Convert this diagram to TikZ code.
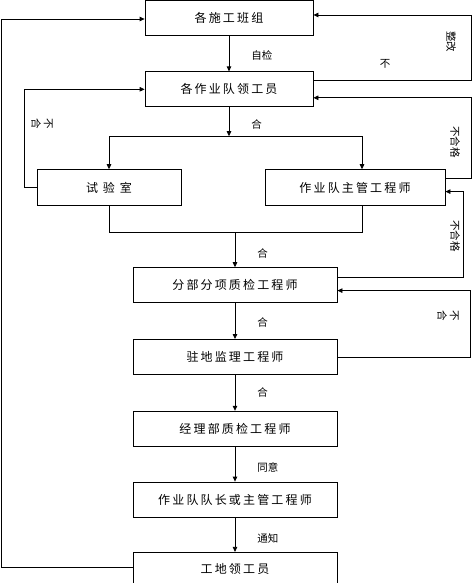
\documentclass[tikz,border=0pt]{standalone}
\usepackage{fontspec}
\setmainfont{Noto Sans CJK SC}
\newfontfamily\boxfont[LetterSpace=18]{Noto Sans CJK SC}
\usetikzlibrary{arrows.meta,positioning}
\tikzset{
  qbox/.style={
    draw=black, line width=0.8pt, minimum height=35pt,
    inner sep=2pt, font=\boxfont\fontsize{12}{14}\selectfont
  },
  ln/.style={draw=black, line width=0.8pt},
  arr/.style={ln, -{Triangle[length=5pt,width=4.5pt]}},
  lbl/.style={font=\fontsize{10.5}{12.5}\selectfont, inner sep=1pt},
  vlbl/.style={lbl, rotate=-90, align=center}
}
\begin{document}
\begin{tikzpicture}[x=1pt, y=1pt, node distance=36pt]
  \useasboundingbox (0,0) rectangle (476,-583);
  % main chain
  \node[qbox, minimum width=168pt] (bz) at (229,-17.5) {各施工班组};
  \node[qbox, minimum width=168pt, below=of bz] (lgy) {各作业队领工员};
  \node[qbox, minimum width=144pt, minimum height=36pt, below=62pt of lgy, xshift=-120pt] (sys)
    {试\hspace{5pt}验\hspace{5pt}室};
  \node[qbox, minimum width=180pt, minimum height=36pt, below=62pt of lgy, xshift=126pt] (zg)
    {作业队主管工程师};
  \node[qbox, minimum width=204pt, below=160pt of lgy, xshift=6pt] (fb) {分部分项质检工程师};
  \node[qbox, minimum width=204pt, below=of fb] (zd) {驻地监理工程师};
  \node[qbox, minimum width=204pt, below=of zd] (jl) {经理部质检工程师};
  \node[qbox, minimum width=204pt, below=35pt of jl] (dz) {作业队队长或主管工程师};
  \node[qbox, minimum width=204pt, minimum height=34pt, below=34.5pt of dz] (gd) {工地领工员};
  % fork and merge
  \coordinate[below=29pt of lgy] (fork);
  \coordinate[above=35pt of fb] (mg);
  \coordinate (fl) at (sys.north |- fork);
  \coordinate (fr) at ([xshift=7pt]zg.north |- fork);
  \draw[arr] (bz) -- node[lbl, right=21pt, pos=0.55] {自检} (lgy);
  \draw[arr] (lgy) -- node[lbl, right=21pt, pos=0.6] {合} (fork);
  \draw[ln] (fl) -- (fr);
  \draw[arr] (fl) -- (sys.north);
  \draw[arr] (fr) -- ([xshift=7pt]zg.north);
  \draw[ln] (sys.south) |- (mg) -| ([xshift=7pt]zg.south);
  \draw[arr] (mg) -- node[lbl, right=21pt, pos=0.6] {合} (fb);
  \draw[arr] (fb) -- node[lbl, right=21pt, pos=0.55] {合} (zd);
  \draw[arr] (zd) -- node[lbl, right=21pt, pos=0.5] {合} (jl);
  \draw[arr] (jl) -- node[lbl, right=21pt, pos=0.6] {同意} (dz);
  \draw[arr] (dz) -- node[lbl, right=21pt, pos=0.6] {通知} (gd);
  % feedback loops
  \draw[arr] ([yshift=8.5pt]lgy.east) -- ++(158,0) |- ([yshift=2.5pt]bz.east);
  \draw[arr] ([yshift=9pt]zg.east) -- ++(26,0) |- ([yshift=-8.5pt]lgy.east);
  \draw[arr] ([yshift=7.5pt]fb.east) -- ++(126,0) |- ([yshift=-4pt]zg.east);
  \draw[arr] (zd.east) -- ++(133,0) |- ([yshift=-5.5pt]fb.east);
  \draw[arr] (sys.west) -- ++(-12,0) |- (lgy.west);
  \draw[arr] ([yshift=2pt]gd.west) -- ++(-131,0) |- ([yshift=-1.5pt]bz.west);
  % loop labels
  \node[lbl] (bu) at (385,-64) {不};
  \node[vlbl] (zgai) at (451,-42) {整改};
  \node[vlbl] (bh1) at (42,-124) {不\\合};
  \node[vlbl] (bhg1) at (455,-142) {不合格};
  \node[vlbl] (bhg2) at (455,-236) {不合格};
  \node[vlbl] (bh2) at (448,-316) {不\\合};
\end{tikzpicture}
\end{document}
